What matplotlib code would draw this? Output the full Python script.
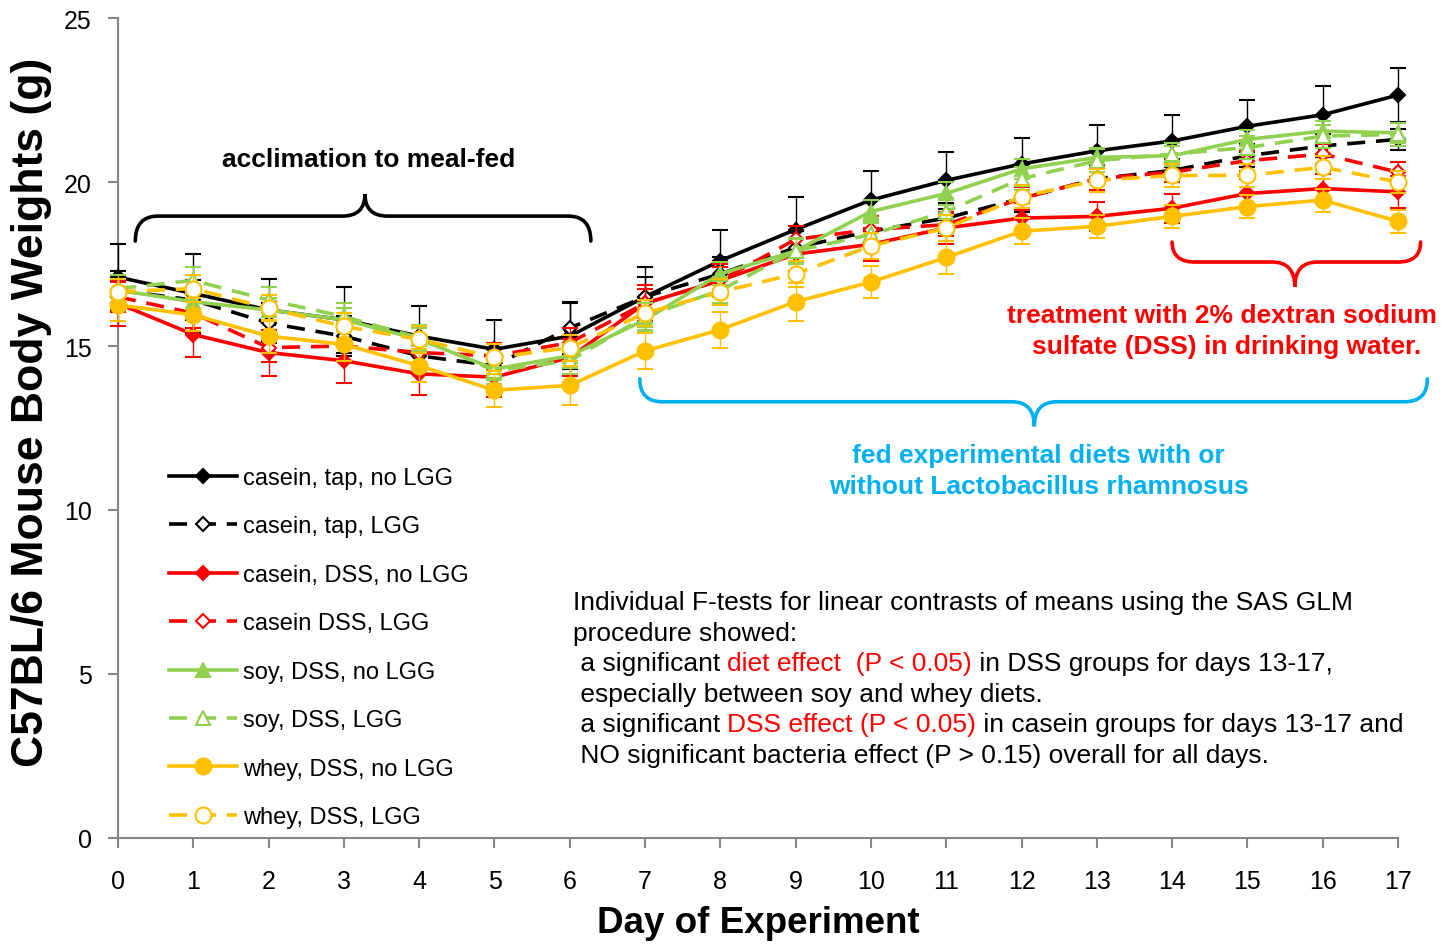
import numpy as np
import matplotlib
matplotlib.use("Agg")
import matplotlib.pyplot as plt
from matplotlib.path import Path
from matplotlib.patches import PathPatch
from matplotlib.transforms import offset_copy

plt.rcParams['font.family'] = ['Liberation Sans', 'DejaVu Sans']

# data (mean body weight in g, +/- error bar)
days = list(range(18))

labels = ["casein, tap, no LGG", "casein, tap, LGG", "casein, DSS, no LGG", "casein DSS, LGG",
          "soy, DSS, no LGG", "soy, DSS, LGG", "whey, DSS, no LGG", "whey, DSS, LGG"]

casein_tap = [17.1, 16.6, 16.1, 15.8, 15.3, 14.9, 15.3, 16.5, 17.6, 18.55, 19.45, 20.05, 20.55, 20.95, 21.25, 21.7, 22.05, 22.65]
casein_tap_lgg = [16.7, 16.4, 15.7, 15.3, 14.7, 14.4, 15.55, 16.5, 17.2, 18.0, 18.5, 18.9, 19.5, 20.1, 20.35, 20.8, 21.1, 21.3]
casein_dss = [16.3, 15.35, 14.8, 14.55, 14.15, 14.05, 14.65, 16.3, 17.0, 17.8, 18.1, 18.6, 18.9, 18.95, 19.2, 19.65, 19.8, 19.7]
casein_dss_lgg = [16.5, 16.0, 14.95, 15.0, 14.8, 14.7, 15.1, 16.3, 17.0, 18.25, 18.55, 18.7, 19.5, 20.1, 20.3, 20.65, 20.85, 20.3]
soy_dss = [16.7, 16.35, 16.1, 15.8, 15.2, 14.3, 14.7, 15.8, 17.2, 17.9, 19.1, 19.65, 20.4, 20.75, 20.8, 21.3, 21.55, 21.5]
soy_dss_lgg = [16.75, 17.0, 16.4, 15.9, 15.25, 14.25, 14.55, 15.9, 16.7, 17.9, 18.4, 19.1, 20.1, 20.65, 20.85, 21.05, 21.4, 21.45]
whey_dss = [16.25, 15.95, 15.3, 15.05, 14.4, 13.65, 13.8, 14.85, 15.5, 16.35, 16.95, 17.7, 18.5, 18.65, 18.95, 19.25, 19.45, 18.8]
whey_dss_lgg = [16.65, 16.75, 16.15, 15.6, 15.2, 14.65, 14.95, 16.0, 16.65, 17.2, 18.05, 18.6, 19.55, 20.05, 20.2, 20.2, 20.45, 20.0]

se_casein_tap = [1.0, 1.2, 0.95, 1.0, 0.93, 0.9, 1.0, 0.9, 0.94, 1.0, 0.88, 0.86, 0.78, 0.79, 0.78, 0.79, 0.87, 0.82]
se_casein_tap_lgg = [0.6, 0.6, 0.6, 0.6, 0.55, 0.55, 0.8, 0.6, 0.5, 0.5, 0.45, 0.45, 0.4, 0.4, 0.35, 0.35, 0.35, 0.32]
se_casein_dss = [0.7, 0.7, 0.7, 0.67, 0.65, 0.6, 0.55, 0.55, 0.5, 0.5, 0.5, 0.5, 0.45, 0.45, 0.44, 0.45, 0.45, 0.48]
se_casein_dss_lgg = [0.45, 0.45, 0.45, 0.45, 0.4, 0.4, 0.45, 0.45, 0.4, 0.4, 0.4, 0.35, 0.35, 0.35, 0.3, 0.3, 0.3, 0.3]
se_soy_dss = [0.35, 0.35, 0.35, 0.35, 0.35, 0.35, 0.35, 0.35, 0.35, 0.35, 0.35, 0.35, 0.3, 0.3, 0.3, 0.3, 0.3, 0.3]
se_soy_dss_lgg = [0.4, 0.4, 0.4, 0.4, 0.4, 0.4, 0.4, 0.4, 0.4, 0.4, 0.4, 0.4, 0.35, 0.35, 0.35, 0.35, 0.35, 0.35]
se_whey_dss = [0.5, 0.5, 0.5, 0.5, 0.5, 0.5, 0.6, 0.56, 0.55, 0.58, 0.5, 0.5, 0.4, 0.35, 0.35, 0.35, 0.35, 0.35]
se_whey_dss_lgg = [0.4, 0.4, 0.4, 0.4, 0.4, 0.4, 0.4, 0.4, 0.4, 0.4, 0.4, 0.4, 0.35, 0.35, 0.35, 0.35, 0.35, 0.35]

series = [casein_tap, casein_tap_lgg, casein_dss, casein_dss_lgg, soy_dss, soy_dss_lgg, whey_dss, whey_dss_lgg]
errors = [se_casein_tap, se_casein_tap_lgg, se_casein_dss, se_casein_dss_lgg,
          se_soy_dss, se_soy_dss_lgg, se_whey_dss, se_whey_dss_lgg]

BLACK, RED, GREEN, GOLD, BLUE = "#000000", "#FF0000", "#92D050", "#FFC000", "#00B0F0"
colors = [BLACK, BLACK, RED, RED, GREEN, GREEN, GOLD, GOLD]
markers = ["D", "D", "D", "D", "^", "^", "o", "o"]
msizes = [7.5, 7.5, 7.5, 7.5, 10, 10, 11.5, 11.5]
dashed = [False, True, False, True, False, True, False, True]

stats_lines = [
    [("Individual F-tests for linear contrasts of means using the SAS GLM", BLACK)],
    [("procedure showed:", BLACK)],
    [(" a significant ", BLACK), ("diet effect  (P < 0.05)", RED), (" in DSS groups for days 13-17,", BLACK)],
    [(" especially between soy and whey diets.", BLACK)],
    [(" a significant ", BLACK), ("DSS effect (P < 0.05)", RED), (" in casein groups for days 13-17 and", BLACK)],
    [(" NO significant bacteria effect (P > 0.15) overall for all days.", BLACK)],
]

W, H = 1443, 945
fig = plt.figure(figsize=(W / 100, H / 100), dpi=100)
ax = fig.add_axes([118 / W, 1 - 839 / H, 1280 / W, 820 / H])

handles = []
for i, (m, e) in enumerate(zip(series, errors)):
    open_mk = dashed[i]
    cont = ax.errorbar(days, m, yerr=e, color=colors[i], lw=2.6,
                       marker=markers[i], ms=msizes[i],
                       mfc="white" if open_mk else colors[i], mec=colors[i], mew=1.5,
                       elinewidth=1.0, capsize=6, capthick=1.0, zorder=3 + i)
    line = cont.lines[0]
    if open_mk:
        line.set_dashes([5, 3])
    for art in cont.get_children():
        art.set_clip_on(False)
    handles.append(line)

ax.set_xlim(0, 17)
ax.set_ylim(0, 25)
ax.set_xticks(days)
ax.set_yticks([0, 5, 10, 15, 20, 25])
for s in ["top", "right"]:
    ax.spines[s].set_visible(False)
for s in ["left", "bottom"]:
    ax.spines[s].set_color("#868686")
    ax.spines[s].set_linewidth(1.5)
ax.tick_params(axis="both", length=7, width=1.5, color="#868686", labelsize=18, pad=12)
ax.tick_params(axis="x", pad=15)

fig.text(32 / W, 1 - 412 / H, "C57BL/6 Mouse Body Weights (g)", rotation=90,
         ha="center", va="center", fontsize=32, fontweight="bold")
fig.text(758 / W, 1 - 924 / H, "Day of Experiment", ha="center", va="center",
         fontsize=26.5, fontweight="bold")

ax.legend(handles, labels, loc="upper left", bbox_to_anchor=(169 / W, 1 - 468 / H),
          bbox_transform=fig.transFigure, frameon=False, fontsize=17, numpoints=1,
          handlelength=2.9, handletextpad=0.25, labelspacing=1.12, borderpad=0, borderaxespad=0)


def brace(x0, x1, xm, y_end, y_bar, y_tip, r, color):
    verts = [(x0, y_end), (x0, y_bar), (x0 + r, y_bar),
             (xm - r, y_bar), (xm, y_bar), (xm, y_tip),
             (xm, y_bar), (xm + r, y_bar),
             (x1 - r, y_bar), (x1, y_bar), (x1, y_end)]
    codes = [Path.MOVETO, Path.CURVE3, Path.CURVE3,
             Path.LINETO, Path.CURVE3, Path.CURVE3,
             Path.CURVE3, Path.CURVE3,
             Path.LINETO, Path.CURVE3, Path.CURVE3]
    ax.add_patch(PathPatch(Path(verts, codes), fill=False, edgecolor=color, lw=2.6,
                           clip_on=False, capstyle="round"))


brace(0.23, 6.28, 3.28, 18.2, 18.96, 19.63, 0.3, BLACK)
brace(6.93, 17.39, 12.17, 14.0, 13.3, 12.55, 0.3, BLUE)
brace(14.0, 17.3, 15.63, 18.17, 17.56, 16.8, 0.3, RED)

bold = dict(fontweight="bold", fontsize=19, ha="center", va="center")
ax.text(3.33, 20.7, "acclimation to meal-fed", color=BLACK, **bold)
ax.text(14.66, 15.95, "treatment with 2% dextran sodium", color=RED, clip_on=False, **bold)
ax.text(14.72, 15.0, "sulfate (DSS) in drinking water.", color=RED, clip_on=False, **bold)
ax.text(12.22, 11.68, "fed experimental diets with or", color=BLUE, **bold)
ax.text(12.23, 10.73, "without Lactobacillus rhamnosus", color=BLUE, **bold)

# multi-coloured note: segments placed by measured advance
renderer = fig.canvas.get_renderer()
fs = 19


def advance(s):
    t1 = fig.text(0, 0, "|" + s + "|", fontsize=fs)
    t2 = fig.text(0, 0, "||", fontsize=fs)
    w = t1.get_window_extent(renderer).width - t2.get_window_extent(renderer).width
    t1.remove()
    t2.remove()
    return w


y0 = 6.98
for k, segs in enumerate(stats_lines):
    dx = 0.0
    y = y0 - k * 30.6 / 32.8
    for txt, col in segs:
        tr = offset_copy(ax.transData, fig=fig, x=dx, y=0, units="dots")
        ax.text(6.04, y, txt, color=col, fontsize=fs, ha="left", va="baseline", transform=tr)
        dx += advance(txt)

fig.savefig("out.png", dpi=100)
